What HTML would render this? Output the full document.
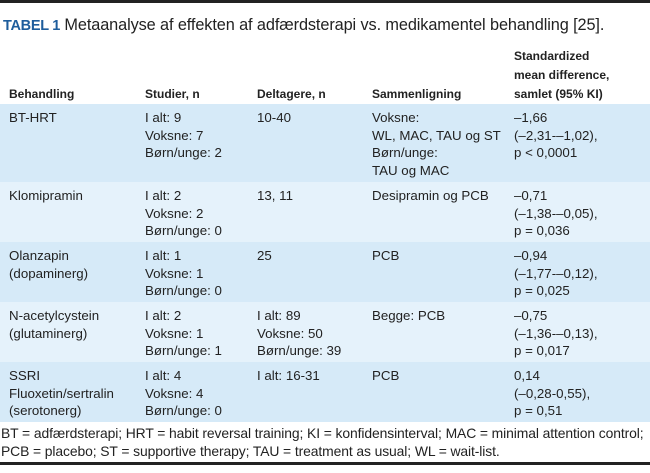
<!DOCTYPE html>
<html><head><meta charset="utf-8"><style>
*{margin:0;padding:0;box-sizing:border-box}
body{width:650px;height:473px;background:#fff;font-family:"Liberation Sans",Arial,sans-serif;color:#222;position:relative;overflow:hidden}
.top{position:absolute;left:0;top:0;width:650px;height:3px;background:#222}
.bot{position:absolute;left:0;top:462px;width:650px;height:3px;background:#222}
.title{position:absolute;left:3px;top:16px;font-size:16.3px;white-space:nowrap;color:#222;letter-spacing:-0.1px}
.title b{color:#1e5d9c;font-size:14.5px;letter-spacing:-0.3px}
table{position:absolute;left:0;top:45px;width:650px;border-collapse:collapse;font-size:13.3px}
td,th{vertical-align:top;text-align:left;line-height:17.7px;padding:5px 0 0 0;white-space:nowrap}
th{font-weight:bold;vertical-align:bottom;padding:0 0 0 0;font-size:12px;line-height:19px}
td:first-child,th:first-child{padding-left:9px}
tr.a td{background:#d6eaf8}
tr.b td{background:#e5f2fb}
.foot{position:absolute;left:1px;top:424px;font-size:13.9px;line-height:18px;color:#222;white-space:nowrap;letter-spacing:-0.1px}
</style></head><body>
<div class="top"></div>
<div class="title"><b>TABEL 1</b> Metaanalyse af effekten af adfærdsterapi vs. medikamentel behandling [25].</div>
<table>
<colgroup><col style="width:145px"><col style="width:112px"><col style="width:115px"><col style="width:142px"><col></colgroup>
<tr style="height:59px"><th>Behandling</th><th>Studier, n</th><th>Deltagere, n</th><th>Sammenligning</th><th>Standardized<br>mean difference,<br>samlet (95% KI)</th></tr>
<tr class="a" style="height:78px"><td>BT-HRT</td><td>I alt: 9<br>Voksne: 7<br>Børn/unge: 2</td><td>10-40</td><td>Voksne:<br>WL, MAC, TAU og ST<br>Børn/unge:<br>TAU og MAC</td><td>–1,66<br>(–2,31-–1,02),<br>p &lt; 0,0001</td></tr>
<tr class="b" style="height:60px"><td>Klomipramin</td><td>I alt: 2<br>Voksne: 2<br>Børn/unge: 0</td><td>13, 11</td><td>Desipramin og PCB</td><td>–0,71<br>(–1,38-–0,05),<br>p = 0,036</td></tr>
<tr class="a" style="height:60px"><td>Olanzapin<br>(dopaminerg)</td><td>I alt: 1<br>Voksne: 1<br>Børn/unge: 0</td><td>25</td><td>PCB</td><td>–0,94<br>(–1,77-–0,12),<br>p = 0,025</td></tr>
<tr class="b" style="height:60px"><td>N-acetylcystein<br>(glutaminerg)</td><td>I alt: 2<br>Voksne: 1<br>Børn/unge: 1</td><td>I alt: 89<br>Voksne: 50<br>Børn/unge: 39</td><td>Begge: PCB</td><td>–0,75<br>(–1,36-–0,13),<br>p = 0,017</td></tr>
<tr class="a" style="height:60px"><td>SSRI<br>Fluoxetin/sertralin<br>(serotonerg)</td><td>I alt: 4<br>Voksne: 4<br>Børn/unge: 0</td><td>I alt: 16-31</td><td>PCB</td><td>0,14<br>(–0,28-0,55),<br>p = 0,51</td></tr>
</table>
<div class="foot">BT = adfærdsterapi; HRT = habit reversal training; KI = konfidensinterval; MAC = minimal attention control;<br>PCB = placebo; ST = supportive therapy; TAU = treatment as usual; WL = wait-list.</div>
<div class="bot"></div>
</body></html>
